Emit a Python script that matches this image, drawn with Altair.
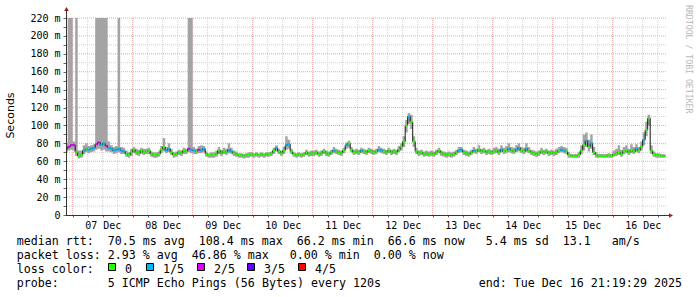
import altair as alt
import pandas as pd

# ---------------- data (hourly, hour 0 = 06 Dec 00:00) ----------------
start_hour = 21
median_ms = (
    [74, 76, 78]
    + [78, 70, 66, 67, 72, 74, 73, 74, 75, 79, 81, 78, 80, 77, 75, 74, 72, 73, 74, 72, 71, 68, 67, 70]
    + [73, 70, 69, 72, 70, 71, 72, 68, 67, 67, 68, 73, 76, 72, 74, 70, 67, 68, 70, 69, 72, 71, 74, 73]
    + [72, 71, 73, 72, 74, 68, 67, 67, 67, 68, 72, 69, 71, 70, 73, 71, 69, 68, 67, 67, 66, 67, 67, 68]
    + [67, 68, 67, 68, 67, 68, 68, 69, 72, 75, 71, 69, 72, 78, 79, 71, 68, 67, 68, 67, 68, 70, 68, 69]
    + [69, 70, 68, 69, 71, 69, 68, 70, 72, 71, 70, 69, 72, 78, 80, 73, 70, 71, 70, 72, 71, 70, 72, 71]
    + [70, 71, 73, 72, 71, 70, 72, 70, 71, 70, 73, 76, 82, 100, 110, 104, 82, 71, 69, 70, 68, 69, 68, 69]
    + [68, 70, 72, 69, 68, 67, 68, 67, 68, 70, 72, 73, 70, 69, 68, 70, 72, 71, 73, 71, 72, 70, 71, 70]
    + [71, 72, 70, 73, 71, 72, 74, 72, 71, 73, 75, 72, 71, 74, 72, 70, 69, 68, 69, 71, 70, 71, 69, 70]
    + [69, 70, 72, 73, 72, 71, 67, 66, 66, 66, 67, 72, 78, 83, 76, 80, 70, 67, 66, 66, 66, 66, 67, 66]
    + [68, 69, 70, 68, 71, 72, 70, 72, 71, 74, 72, 76, 84, 95, 108, 72, 68, 67, 67, 66, 66, 66]
)
smoke_hi = (
    [80, 220, 220]
    + [82, 220, 72, 72, 78, 80, 77, 78, 79, 220, 220, 220, 220, 220, 82, 78, 76, 77, 220, 76, 75, 72, 70, 74]
    + [76, 74, 73, 75, 74, 74, 75, 71, 70, 70, 71, 77, 86, 76, 80, 74, 70, 71, 73, 72, 75, 74, 220, 220]
    + [76, 74, 77, 78, 77, 71, 69, 70, 70, 72, 76, 73, 75, 74, 80, 75, 72, 71, 69, 69, 68, 69, 70, 70]
    + [69, 70, 69, 70, 69, 70, 70, 71, 75, 78, 74, 72, 76, 88, 84, 74, 70, 69, 70, 69, 70, 73, 71, 72]
    + [72, 73, 71, 72, 74, 72, 71, 73, 76, 74, 73, 72, 75, 81, 83, 76, 73, 74, 73, 75, 74, 73, 75, 74]
    + [73, 74, 77, 75, 74, 73, 75, 73, 74, 73, 77, 80, 88, 106, 114, 112, 88, 75, 72, 73, 71, 72, 71, 72]
    + [71, 73, 75, 72, 71, 70, 71, 70, 71, 73, 76, 76, 73, 72, 71, 73, 76, 74, 78, 74, 75, 73, 74, 73]
    + [75, 76, 74, 78, 75, 77, 80, 76, 75, 78, 80, 76, 75, 80, 76, 73, 72, 71, 72, 75, 73, 74, 72, 73]
    + [72, 74, 76, 77, 76, 75, 70, 68, 68, 68, 70, 78, 90, 92, 84, 90, 76, 70, 68, 68, 68, 68, 69, 68]
    + [72, 74, 78, 73, 76, 78, 74, 79, 76, 79, 76, 82, 92, 104, 112, 78, 71, 69, 69, 68, 68, 68]
)
smoke_lo = (
    [70, 72, 73]
    + [72, 66, 63, 64, 68, 70, 69, 70, 71, 73, 74, 72, 73, 71, 71, 70, 68, 69, 70, 68, 68, 65, 64, 66]
    + [69, 67, 66, 68, 67, 68, 68, 65, 64, 64, 65, 69, 71, 69, 70, 67, 64, 65, 67, 66, 68, 68, 70, 69]
    + [68, 68, 69, 69, 70, 65, 64, 64, 64, 65, 68, 66, 68, 67, 69, 68, 66, 65, 64, 64, 63, 64, 64, 65]
    + [64, 65, 64, 65, 64, 65, 65, 66, 68, 71, 68, 66, 68, 73, 74, 68, 65, 64, 65, 64, 65, 67, 65, 66]
    + [66, 67, 65, 66, 68, 66, 65, 67, 69, 68, 67, 66, 69, 74, 75, 70, 67, 68, 67, 69, 68, 67, 69, 68]
    + [67, 68, 70, 69, 68, 67, 69, 67, 68, 67, 70, 72, 76, 92, 102, 96, 76, 68, 66, 67, 65, 66, 65, 66]
    + [65, 67, 69, 66, 65, 64, 65, 64, 65, 67, 69, 70, 67, 66, 65, 67, 69, 68, 70, 68, 69, 67, 68, 67]
    + [68, 69, 67, 70, 68, 69, 70, 69, 68, 70, 71, 69, 68, 70, 69, 67, 66, 65, 66, 68, 67, 68, 66, 67]
    + [66, 67, 69, 70, 69, 68, 64, 64, 64, 64, 64, 68, 72, 76, 71, 74, 67, 64, 64, 64, 64, 64, 64, 64]
    + [65, 66, 67, 65, 68, 69, 67, 69, 68, 70, 69, 72, 78, 88, 100, 68, 65, 64, 64, 64, 64, 64]
)
loss_level = (
    [2, 2, 2]
    + [2, 0, 0, 0, 1, 0, 1, 1, 1, 2, 2, 1, 1, 2, 1, 1, 1, 1, 1, 1, 1, 0, 0, 0]
    + [0, 0, 0, 0, 0, 0, 0, 0, 0, 0, 0, 0, 0, 1, 1, 0, 0, 0, 0, 0, 0, 0, 2, 1]
    + [1, 0, 2, 1, 1, 0, 0, 0, 0, 0, 0, 0, 0, 0, 1, 1, 0, 0, 0, 0, 0, 0, 0, 0]
    + [0, 0, 0, 0, 0, 0, 0, 0, 0, 1, 0, 0, 0, 1, 1, 0, 0, 0, 0, 0, 0, 0, 0, 0]
    + [0, 0, 0, 0, 0, 0, 0, 0, 1, 0, 0, 0, 0, 1, 0, 0, 0, 0, 0, 1, 0, 0, 0, 0]
    + [0, 0, 1, 1, 0, 0, 0, 0, 0, 0, 0, 0, 0, 0, 1, 0, 0, 0, 0, 0, 0, 0, 0, 0]
    + [0, 0, 0, 0, 0, 0, 0, 0, 0, 0, 1, 1, 0, 0, 0, 0, 1, 0, 0, 0, 0, 0, 0, 0]
    + [0, 0, 0, 1, 0, 0, 1, 0, 0, 1, 1, 0, 0, 1, 0, 0, 0, 0, 0, 0, 0, 0, 0, 0]
    + [0, 0, 0, 1, 1, 0, 0, 0, 0, 0, 0, 0, 0, 1, 0, 1, 0, 0, 0, 0, 0, 0, 0, 0]
    + [0, 0, 0, 0, 0, 0, 0, 0, 0, 1, 0, 0, 1, 0, 0, 0, 0, 0, 0, 0, 0, 0]
)
hours = list(range(start_hour, start_hour + len(median_ms)))
assert len(median_ms) == len(smoke_hi) == len(smoke_lo) == len(loss_level) == 241

loss_labels = ["0", "1/5", "2/5", "3/5", "4/5"]
loss_colors = ["#26ff00", "#00b8ff", "#dd00ff", "#5e00ff", "#ff0000"]
day_labels = ["07 Dec", "08 Dec", "09 Dec", "10 Dec", "11 Dec",
              "12 Dec", "13 Dec", "14 Dec", "15 Dec", "16 Dec"]
time_domain = [21.325, 261.325]   # 06 Dec 21:19:29 .. 16 Dec 21:19:29
y_ticks = list(range(0, 221, 10))
y_major = list(range(0, 221, 20))
x_minor = list(range(24, 262, 6))
x_major = list(range(24, 262, 24))

stats_median = ["median rtt:", "70.5 ms avg", "108.4 ms max", "66.2 ms min",
                "66.6 ms now", "5.4 ms sd", "13.1", "am/s"]
stats_loss = ["packet loss:", "2.93 % avg", "46.86 % max", "0.00 % min", "0.00 % now"]
probe_text = ["probe:", "5 ICMP Echo Pings (56 Bytes) every 120s", "end: Tue Dec 16 21:19:29 2025"]

df = pd.DataFrame({"h": hours, "med": median_ms, "hi": smoke_hi,
                   "lo": smoke_lo, "loss": loss_level})

# ---------------- layout ----------------
MONO = "DejaVu Sans Mono"
CW = 7.0          # legend char width (px)
X0 = -49.3        # legend text left, plot coords
NB = "\u00a0"
FS = 11.65

day_expr = "[" + ",".join("'%s'" % d for d in day_labels) + "]"
x_label_expr = f"datum.value % 24 == 12 ? {day_expr}[floor(datum.value / 24) - 1] : ''"
y_label_expr = ("datum.value == 0 ? '0\u00a0\u00a0' : "
                "(datum.value % 20 == 0 ? datum.value + '\u00a0m' : '')")

xaxis = alt.Axis(
    values=x_minor, labelExpr=x_label_expr, title=None, labelOverlap=False,
    domain=False, grid=False, tickSize=2, tickColor="#666666", labelPadding=3,
    labelFont=MONO, labelFontSize=10, labelColor="black", labelAngle=0,
    labelBaseline="top", labelFlush=False,
)
yaxis = alt.Axis(
    values=y_ticks, labelExpr=y_label_expr, labelOverlap=False,
    title="Seconds", titleFont="DejaVu Sans", titleFontSize=11, titleFontWeight="normal",
    titleColor="black", titleAngle=270, titleX=-56, titleY=97,
    titleAlign="center", titleBaseline="middle",
    domain=False, grid=False, tickSize=3, tickColor="#666666", labelPadding=3,
    labelFont=MONO, labelFontSize=10, labelColor="black", labelFlush=False,
)

xs = alt.Scale(domain=time_domain, nice=False, zero=False)
ys = alt.Scale(domain=[0, 220], nice=False, zero=True)

# grid layers
gy_minor = alt.Chart(pd.DataFrame({"v": [v for v in y_ticks if v % 20]})).mark_rule(
    color="#d0d0d0", strokeDash=[1, 1], strokeWidth=1).encode(
    y=alt.Y("v:Q", scale=ys, axis=yaxis))
gy_major = alt.Chart(pd.DataFrame({"v": y_major[1:]})).mark_rule(
    color="#eca4a4", strokeDash=[1, 1], strokeWidth=1).encode(
    y=alt.Y("v:Q", scale=ys, axis=yaxis))
gx_minor = alt.Chart(pd.DataFrame({"v": [v for v in x_minor if v % 24]})).mark_rule(
    color="#d0d0d0", strokeDash=[1, 1], strokeWidth=1).encode(
    x=alt.X("v:Q", scale=xs, axis=xaxis))
gx_major = alt.Chart(pd.DataFrame({"v": x_major})).mark_rule(
    color="#eca4a4", strokeDash=[1, 1], strokeWidth=1).encode(
    x=alt.X("v:Q", scale=xs, axis=xaxis))

base = alt.Chart(df)
X = alt.X("h:Q", scale=xs, axis=xaxis)

smoke = base.mark_area(interpolate="step-after", color="#a4a4a4", clip=True).encode(
    x=X, y=alt.Y("lo:Q", scale=ys, axis=yaxis), y2="hi:Q")
med_line = base.mark_line(interpolate="step-after", color="#151515", strokeWidth=1, clip=True).encode(
    x=X, y=alt.Y("med:Q", scale=ys, axis=yaxis))
med_seg = base.transform_calculate(h2="datum.h + 1").mark_rule(strokeWidth=2, clip=True).encode(
    x=X, x2="h2:Q", y=alt.Y("med:Q", scale=ys, axis=yaxis),
    color=alt.Color("loss:O", scale=alt.Scale(domain=[0, 1, 2, 3, 4], range=loss_colors), legend=None),
)

one = pd.DataFrame({"k": [0]})
layers = [gy_minor, gy_major, gx_minor, gx_major, smoke, med_line, med_seg]

# axis lines with arrows
layers.append(alt.Chart(one).mark_rule(color="#333333", strokeWidth=1).encode(
    x=alt.value(0.5), y=alt.value(197.5), y2=alt.value(-8)))
layers.append(alt.Chart(one).mark_rule(color="#333333", strokeWidth=1).encode(
    x=alt.value(0), x2=alt.value(604), y=alt.value(197.5)))
layers.append(alt.Chart(one).mark_point(shape="triangle-up", filled=True, color="#9b1c1c",
                                        size=22, opacity=1).encode(x=alt.value(0.5), y=alt.value(-9)))
layers.append(alt.Chart(one).mark_point(shape="triangle-right", filled=True, color="#9b1c1c",
                                        size=22, opacity=1).encode(x=alt.value(605), y=alt.value(197.5)))


def text_layer(s, x, y, **kw):
    props = dict(align="left", baseline="alphabetic", font=MONO, fontSize=FS, color="black")
    props.update(kw)
    return alt.Chart(one).mark_text(**props).encode(
        x=alt.value(x), y=alt.value(y), text=alt.value(s.replace(" ", NB)))


row_y = [227, 241, 255, 269]
for chunks, cols, ry in [
    (stats_median, [0, 13, 26, 40, 53, 67, 78, 85], row_y[0]),
    (stats_loss, [0, 13, 25, 39, 51], row_y[1]),
    (probe_text, [0, 13, 66], row_y[3]),
]:
    for c, col in zip(chunks, cols):
        layers.append(text_layer(c, X0 + col * CW, ry))
layers.append(text_layer("loss color:", X0, row_y[2]))

box_left = [42, 80, 131, 181, 232]
for lab, col, bx in zip(loss_labels, loss_colors, box_left):
    layers.append(alt.Chart(one).mark_rect(fill=col, stroke="black", strokeWidth=1).encode(
        x=alt.value(bx + 0.5), x2=alt.value(bx + 7.5), y=alt.value(245.5), y2=alt.value(252.5)))
    layers.append(text_layer(lab, bx + 17, row_y[2]))

# vertical credit text
layers.append(alt.Chart(one).mark_text(align="left", baseline="middle", angle=90, font=MONO,
                                       fontSize=8.2, color="#b8b8b8").encode(
    x=alt.value(622), y=alt.value(-13), text=alt.value("RRDTOOL / TOBI OETIKER")))

chart = alt.layer(*layers).properties(
    width=600, height=197,
    padding={"left": 66, "top": 18, "right": 31, "bottom": 82},
    autosize=alt.AutoSizeParams(type="none"),
    background="white",
).configure_view(stroke=None)

chart.save("out.html", embed_options={"renderer": "svg", "actions": False})
